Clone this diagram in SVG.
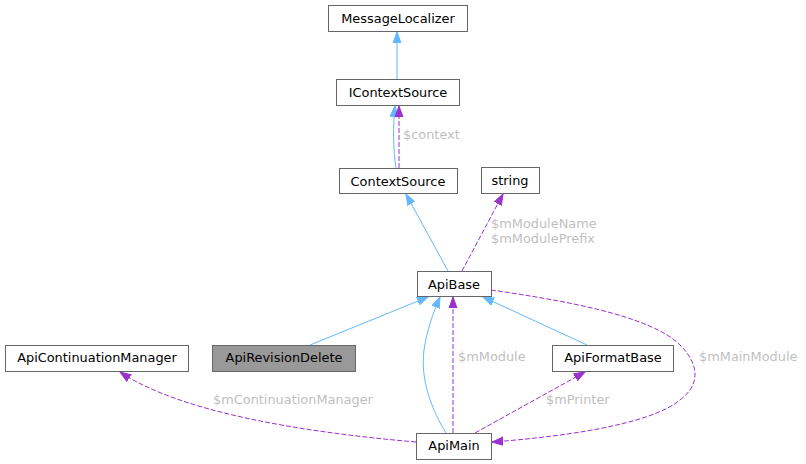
<svg xmlns="http://www.w3.org/2000/svg" width="806" height="464" viewBox="0 0 806 464">
<style>
.node rect{fill:#ffffff;stroke:#666666;stroke-width:1}
.node.sel rect{fill:#999999}
.node text{font-family:"DejaVu Sans",sans-serif;font-size:12.9px;fill:#000000;text-anchor:middle}
.inh{fill:none;stroke:#63b8ff;stroke-width:1}
.use{fill:none;stroke:#9a32cd;stroke-width:1;stroke-dasharray:5,2}
.lbl{font-family:"DejaVu Sans",sans-serif;font-size:12.9px;fill:#bfbfbf}
</style>
<defs>
<marker id="ab" markerUnits="userSpaceOnUse" markerWidth="12" markerHeight="10" refX="11" refY="4" orient="auto" viewBox="0 0 12 8">
<path d="M0,0 L11,4 L0,8 z" fill="#63b8ff" stroke="#63b8ff"/>
</marker>
<marker id="ap" markerUnits="userSpaceOnUse" markerWidth="12" markerHeight="10" refX="11" refY="4" orient="auto" viewBox="0 0 12 8">
<path d="M0,0 L11,4 L0,8 z" fill="#9a32cd" stroke="#9a32cd"/>
</marker>
</defs>
<g id="edges">
<path class="inh" d="M397,79 L397,32" marker-end="url(#ab)"/>
<path class="inh" d="M396,168 C393,150 393,125 395,106" marker-end="url(#ab)"/>
<path class="use" d="M399,168 L399,106" marker-end="url(#ap)"/>
<text class="lbl" x="403" y="139">$context</text>
<path class="inh" d="M448,271 L406,194" marker-end="url(#ab)"/>
<path class="use" d="M462,271 L503,194" marker-end="url(#ap)"/>
<text class="lbl" x="491" y="228">$mModuleName</text>
<text class="lbl" x="491" y="243">$mModulePrefix</text>
<path class="inh" d="M310,345 L428,297" marker-end="url(#ab)"/>
<path class="inh" d="M446,433 C432,410 420,380 424,350 C427,330 433,313 440,297" marker-end="url(#ab)"/>
<path class="use" d="M453,433 L453,297" marker-end="url(#ap)"/>
<text class="lbl" x="458" y="361">$mModule</text>
<path class="inh" d="M587,345 L483,297" marker-end="url(#ab)"/>
<path class="use" d="M475,433 L585,372" marker-end="url(#ap)"/>
<text class="lbl" x="546" y="404">$mPrinter</text>
<path class="use" d="M416,442 C300,432 180,412 120,372" marker-end="url(#ap)"/>
<text class="lbl" x="213" y="404">$mContinuationManager</text>
<path class="use" d="M491,290 C560,300 650,315 680,345 C700,365 700,385 680,400 C650,425 560,437 492,442" marker-end="url(#ap)"/>
<text class="lbl" x="699" y="361">$mMainModule</text>
</g>
<g id="MessageLocalizer" class="node"><rect x="328.5" y="5.5" width="139" height="26"/><text x="398" y="23">MessageLocalizer</text></g>
<g id="IContextSource" class="node"><rect x="336.5" y="79.5" width="123" height="26"/><text x="398" y="97">IContextSource</text></g>
<g id="ContextSource" class="node"><rect x="339.5" y="168.5" width="118" height="25"/><text x="398" y="186">ContextSource</text></g>
<g id="string" class="node"><rect x="481.5" y="167.5" width="58" height="26"/><text x="510" y="185">string</text></g>
<g id="ApiBase" class="node"><rect x="417.5" y="271.5" width="74" height="25"/><text x="454" y="289">ApiBase</text></g>
<g id="ApiContinuationManager" class="node"><rect x="5.5" y="345.5" width="183" height="26"/><text x="97" y="362">ApiContinuationManager</text></g>
<g id="ApiRevisionDelete" class="node sel"><rect x="212.5" y="345.5" width="143" height="26"/><text x="284" y="362">ApiRevisionDelete</text></g>
<g id="ApiFormatBase" class="node"><rect x="552.5" y="345.5" width="121" height="26"/><text x="613" y="362">ApiFormatBase</text></g>
<g id="ApiMain" class="node"><rect x="416.5" y="433.5" width="75" height="26"/><text x="454" y="450">ApiMain</text></g>
</svg>
